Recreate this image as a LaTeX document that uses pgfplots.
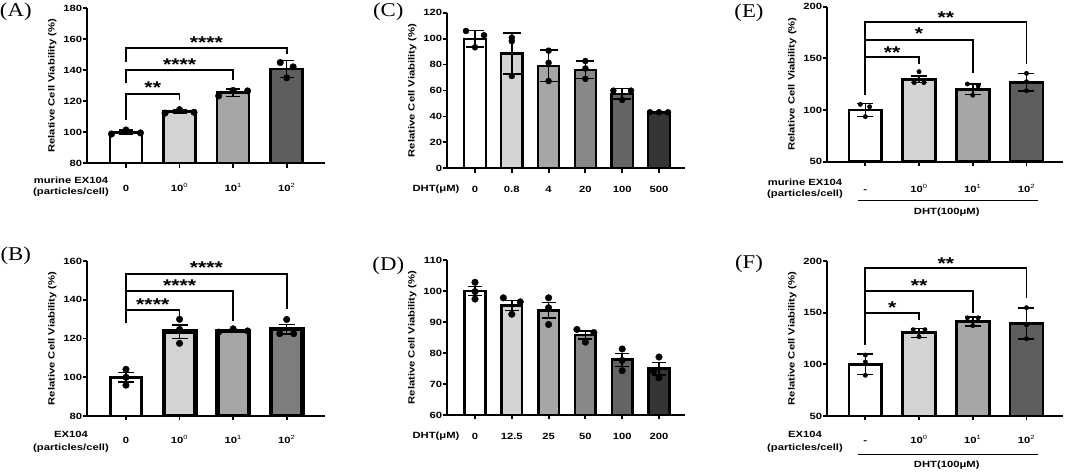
\documentclass[border=0pt]{standalone}
\usepackage{fontspec}
\setmainfont{Liberation Sans}[FakeStretch=1.25]
\newfontfamily\panelfont{Liberation Serif}[FakeStretch=1.17]
\usepackage{pgfplots}
\pgfplotsset{compat=1.18}

\definecolor{g1}{HTML}{D3D3D3}
\definecolor{g2}{HTML}{A6A6A6}
\definecolor{g3}{HTML}{888888}
\definecolor{g4}{HTML}{646464}
\definecolor{g5}{HTML}{353535}
\definecolor{gA3}{HTML}{5E5E5E}
\definecolor{gB3}{HTML}{7E7E7E}

\newcommand\tfont{\bfseries\fontsize{9}{10}\selectfont}
\newcommand\sfont{\bfseries\fontsize{17}{17}\selectfont}
\newcommand\ssup[1]{\textsuperscript{\mdseries #1}}

\tikzset{stars/.style={anchor=base, yshift=-9.7pt, font=\sfont, inner sep=0pt},
 lab/.style={anchor=base, font=\tfont, inner sep=0pt},
 ylab/.style={rotate=90, anchor=center, font=\tfont, inner sep=0pt}}

\pgfplotsset{
 panel/.style={
   scale only axis, axis lines*=left, clip mode=individual,
   axis line style={line width=2pt, black},
   tick align=outside, major tick length=4.5pt,
   tick style={line width=1.8pt, black},
   ticklabel style={font=\tfont},
   /pgf/number format/assume math mode=true,
   yticklabel style={inner xsep=0.5pt},
   brk/.style={black, line width=1.8pt, no marks, line join=miter},
   dots/.style={only marks, mark=*, black, mark options={fill=black}},
 }}

% x, y, err, colour, outline width
\newcommand{\pbar}[5]{\addplot[ybar, bar shift=0pt, fill=#4, draw=black, line width=#5,
   error bars/.cd, y dir=both, y explicit] coordinates {(#1,#2) +- (0,#3)};}

\begin{document}
\begin{tikzpicture}
\useasboundingbox (0,0) rectangle (1065pt,473pt);

% ---------------- (A)
\begin{axis}[panel, at={(87.3pt,309.7pt)}, anchor=south west, width=237.7pt, height=155pt,
  xmin=-0.722, xmax=3.715, ymin=80, ymax=180, ytick={80,100,...,180},
  xtick={0,1,2,3}, xticklabels={0,10\ssup{0},10\ssup{1},10\ssup{2}},
  xticklabel style={anchor=base, yshift=-23.9pt},
  bar width=32pt,
  error bars/error bar style={line width=1.6pt, black},
  error bars/error mark options={rotate=90, mark size=7pt, line width=1.6pt, black}]
\pbar{0}{100}{1.3}{white}{2.7pt}
\pbar{1}{113.3}{1.3}{g1}{2.7pt}
\pbar{2}{125.5}{2.5}{g2}{2.7pt}
\pbar{3}{140.8}{5.4}{gA3}{2.7pt}
\addplot[dots, mark size=3.3pt] coordinates {(-0.27,98.9) (0,101.5) (0.27,99.6) (0.73,112.4) (1,114.6) (1.27,112.9) (1.73,123.5) (2,127) (2.27,126.7) (2.88,145) (3.12,142.2) (3,135.2)};
\addplot[brk] coordinates {(0,107.9) (0,124.7) (1,124.7) (1,120.8)};
\addplot[brk] coordinates {(0,131.6) (0,140.2) (2,140.2) (2,133.7)};
\addplot[brk] coordinates {(0,145.5) (0,154.2) (3,154.2) (3,150.3)};
\node[stars] at (axis cs:0.5,131.6) {**};
\node[stars] at (axis cs:1,146.2) {****};
\node[stars] at (axis cs:1.5,160.6) {****};
\end{axis}

% ---------------- (B)
\begin{axis}[panel, at={(87.3pt,57pt)}, anchor=south west, width=237.7pt, height=155pt,
  xmin=-0.722, xmax=3.715, ymin=80, ymax=160, ytick={80,100,...,160},
  xtick={0,1,2,3}, xticklabels={0,10\ssup{0},10\ssup{1},10\ssup{2}},
  xticklabel style={anchor=base, yshift=-22.8pt},
  bar width=31.5pt,
  error bars/error bar style={line width=1.6pt, black},
  error bars/error mark options={rotate=90, mark size=8pt, line width=1.6pt, black}]
\pbar{0}{100}{2.4}{white}{2.7pt}
\pbar{1}{123.6}{3.5}{g1}{4.5pt}
\pbar{2}{124}{0.6}{g2}{4.5pt}
\pbar{3}{124.8}{2.4}{gB3}{4.5pt}
\addplot[dots, mark size=3.3pt] coordinates {(0,104.1) (0,100) (0,95.9) (1,129.9) (1,124.7) (1,117.5) (1.73,123.3) (2,125) (2.27,123.9) (3,129.8) (2.87,122.5) (3.13,122.5)};
\addplot[brk] coordinates {(0,127.8) (0,134.7) (1,134.7) (1,131.4)};
\addplot[brk] coordinates {(0,134.7) (0,144.5) (2,144.5) (2,129)};
\addplot[brk] coordinates {(0,144.5) (0,153.1) (3,153.1) (3,135.1)};
\node[stars] at (axis cs:0.5,139.7) {****};
\node[stars] at (axis cs:1,149.3) {****};
\node[stars] at (axis cs:1.5,158.3) {****};
\end{axis}

% ---------------- (C)
\begin{axis}[panel, at={(447.3pt,304.7pt)}, anchor=south west, width=237.7pt, height=155.6pt,
  xmin=-0.753, xmax=5.707, ymin=0, ymax=120, ytick={0,20,...,120},
  xtick={0,...,5}, xticklabels={0,0.8,4,20,100,500},
  xticklabel style={anchor=base, yshift=-19.5pt},
  bar width=21.5pt,
  error bars/error bar style={line width=1.6pt, black},
  error bars/error mark options={rotate=90, mark size=9pt, line width=1.6pt, black}]
\pbar{0}{100}{6.4}{white}{2.2pt}
\pbar{1}{88.5}{15.8}{g1}{2.2pt}
\pbar{2}{79}{12}{g2}{2.2pt}
\pbar{3}{76}{6.9}{g3}{2.2pt}
\pbar{4}{57.5}{4}{g4}{2.2pt}
\pbar{5}{43.2}{0.6}{g5}{2.2pt}
\addplot[dots, mark size=3pt] coordinates {(-0.245,105.9) (0.245,102.6) (0,93.3) (1,100.7) (1,98) (1,71.2) (2,90.7) (2,81.4) (2,67.3) (3,82.7) (3,77) (3,69) (3.76,59.9) (4.24,59.9) (4,52.7) (4.755,43.2) (5,43.2) (5.245,43.2)};
\end{axis}

% ---------------- (D)
\begin{axis}[panel, at={(447.3pt,58pt)}, anchor=south west, width=237.7pt, height=155pt,
  xmin=-0.753, xmax=5.707, ymin=60, ymax=110, ytick={60,70,...,110},
  xtick={0,...,5}, xticklabels={0,12.5,25,50,100,200},
  xticklabel style={anchor=base, yshift=-19.8pt},
  bar width=20.5pt,
  error bars/error bar style={line width=1.6pt, black},
  error bars/error mark options={rotate=90, mark size=7pt, line width=1.6pt, black}]
\pbar{0}{100}{1.5}{white}{2.7pt}
\pbar{1}{95.3}{1.6}{g1}{2.7pt}
\pbar{2}{93.8}{2.5}{g2}{2.7pt}
\pbar{3}{85.8}{1.2}{g3}{2.7pt}
\pbar{4}{77.8}{2.1}{g4}{2.7pt}
\pbar{5}{74.9}{2}{g5}{2.7pt}
\addplot[dots, mark size=3.3pt] coordinates {(0,102.8) (0,99.8) (0,97.4) (0.77,97.8) (1.23,96.5) (1,92.5) (2,97.8) (2,94.6) (2,89.2) (2.77,87.6) (3.23,86.6) (3,83.5) (4,81.3) (4,77.6) (4,74.3) (5,78.7) (4.85,74.2) (5,72)};
\end{axis}

% ---------------- (E)
\begin{axis}[panel, at={(827.3pt,311.3pt)}, anchor=south west, width=235.7pt, height=155pt,
  xmin=-0.708, xmax=3.68, ymin=50, ymax=200, ytick={50,100,150,200},
  xtick={0,1,2,3}, xticklabels={-,10\ssup{0},10\ssup{1},10\ssup{2}},
  xticklabel style={anchor=base, yshift=-26.5pt},
  bar width=32.8pt,
  error bars/error bar style={line width=1.5pt, black},
  error bars/error mark options={rotate=90, mark size=8pt, line width=1.5pt, black}]
\pbar{0}{100}{6.4}{white}{2.7pt}
\pbar{1}{129.7}{3.2}{g1}{2.7pt}
\pbar{2}{120.1}{5}{g2}{2.7pt}
\pbar{3}{126.8}{8.4}{gA3}{2.7pt}
\addplot[dots, mark size=2.2pt] coordinates {(-0.093,105.5) (0.08,103.2) (0,93.6) (1,137.1) (0.91,126.5) (1.09,126.5) (1.9,125.2) (2.1,123.3) (2,114.3) (3,135.5) (3,127.4) (3,118.7)};
\addplot[brk] coordinates {(0,114.5) (0,151) (1,151) (1,144.5)};
\addplot[brk] coordinates {(0,151) (0,167.8) (2,167.8) (2,135.5)};
\addplot[brk] coordinates {(0,167.8) (0,184.9) (3,184.9) (3,144.5)};
\node[stars] at (axis cs:0.5,159.7) {**};
\node[stars] at (axis cs:1,177.5) {*};
\node[stars] at (axis cs:1.5,193.6) {**};
\end{axis}

% ---------------- (F)
\begin{axis}[panel, at={(827.3pt,57pt)}, anchor=south west, width=235.7pt, height=155pt,
  xmin=-0.708, xmax=3.68, ymin=50, ymax=200, ytick={50,100,150,200},
  xtick={0,1,2,3}, xticklabels={-,10\ssup{0},10\ssup{1},10\ssup{2}},
  xticklabel style={anchor=base, yshift=-22.8pt},
  bar width=32.8pt,
  error bars/error bar style={line width=1.5pt, black},
  error bars/error mark options={rotate=90, mark size=8pt, line width=1.5pt, black}]
\pbar{0}{100}{10}{white}{2.7pt}
\pbar{1}{130.5}{4.3}{g1}{2.7pt}
\pbar{2}{141.5}{4.2}{g2}{2.7pt}
\pbar{3}{139.5}{15}{gA3}{2.7pt}
\addplot[dots, mark size=2.2pt] coordinates {(0,109) (0,102.3) (0,89.4) (0.89,133.5) (1.11,133.5) (1,126.8) (1.9,145) (2.1,145) (2,137.5) (3,154.8) (3,138.1) (3,124.8)};
\addplot[brk] coordinates {(0,118.7) (0,149.4) (1,149.4) (1,142.9)};
\addplot[brk] coordinates {(0,149.4) (0,171) (2,171) (2,149.4)};
\addplot[brk] coordinates {(0,171) (0,192.9) (3,192.9) (3,164.5)};
\node[stars] at (axis cs:0.5,158.3) {*};
\node[stars] at (axis cs:1,180) {**};
\node[stars] at (axis cs:1.5,201.6) {**};
\end{axis}

% ---------------- labels
\node[font=\panelfont\fontsize{19.5}{20}\selectfont] at (15.8pt,461.3pt) {(A)};
\node[font=\panelfont\fontsize{19.5}{20}\selectfont] at (15.8pt,217pt) {(B)};
\node[font=\panelfont\fontsize{19.5}{20}\selectfont] at (388.3pt,461pt) {(C)};
\node[font=\panelfont\fontsize{19.5}{20}\selectfont] at (388.3pt,207pt) {(D)};
\node[font=\panelfont\fontsize{19.5}{20}\selectfont] at (749pt,460.5pt) {(E)};
\node[font=\panelfont\fontsize{19.5}{20}\selectfont] at (749pt,209pt) {(F)};

\node[ylab] at (52.3pt,387.2pt) {Relative Cell Viability (\%)};
\node[ylab] at (52.3pt,134.5pt) {Relative Cell Viability (\%)};
\node[ylab] at (412.3pt,382.5pt) {Relative Cell Viability (\%)};
\node[ylab] at (412.3pt,135.5pt) {Relative Cell Viability (\%)};
\node[ylab] at (792.3pt,388.8pt) {Relative Cell Viability (\%)};
\node[ylab] at (792.3pt,134.5pt) {Relative Cell Viability (\%)};

\node[lab] at (71pt,289.7pt) {murine EX104};
\node[lab] at (71pt,278.1pt) {(particles/cell)};
\node[lab] at (71pt,35.3pt) {EX104};
\node[lab] at (71pt,22.7pt) {(particles/cell)};
\node[lab] at (436pt,281pt) {DHT(μM)};
\node[lab] at (436pt,34.3pt) {DHT(μM)};
\node[lab] at (805pt,287.5pt) {murine EX104};
\node[lab] at (805pt,276pt) {(particles/cell)};
\node[lab] at (805pt,35.3pt) {EX104};
\node[lab] at (805pt,22.3pt) {(particles/cell)};
\draw[line width=0.9pt] (858.3pt,273pt) -- (1038.3pt,273pt);
\draw[line width=0.9pt] (858.3pt,18.7pt) -- (1038.3pt,18.7pt);
\node[lab] at (946.7pt,258pt) {DHT(100μM)};
\node[lab] at (946.7pt,5.7pt) {DHT(100μM)};
\end{tikzpicture}
\end{document}
